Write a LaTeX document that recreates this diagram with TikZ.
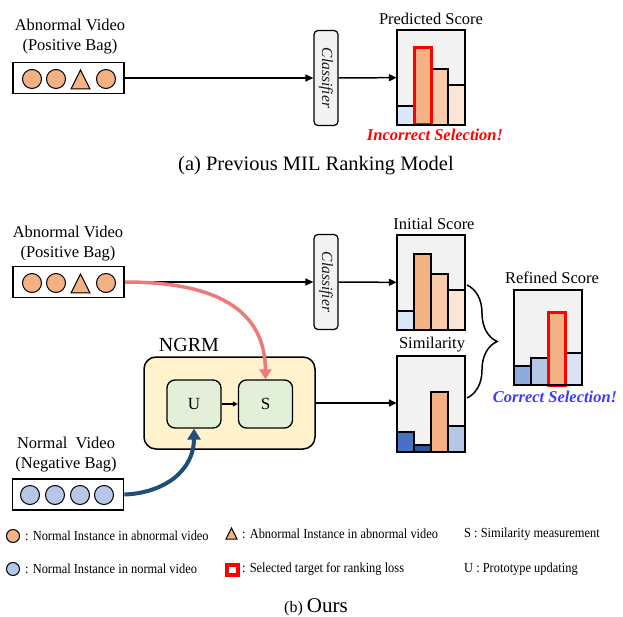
\documentclass[tikz,border=0pt]{standalone}
\usepackage{fontspec}
\setmainfont{Liberation Serif}
\newfontfamily\legfont[FakeStretch=0.9]{Liberation Serif}
\usetikzlibrary{arrows.meta,decorations.pathreplacing}

\definecolor{orangebar}{HTML}{F4B183}
\definecolor{orangemid}{HTML}{F8CBAD}
\definecolor{orangelight}{HTML}{FBE5D6}
\definecolor{bluepale}{HTML}{DAE8FC}
\definecolor{bluelight}{HTML}{B4C7E7}
\definecolor{bluemid}{HTML}{8FAADC}
\definecolor{bluefaint}{HTML}{DAE3F3}
\definecolor{bluestrong}{HTML}{4472C4}
\definecolor{bluedark}{HTML}{2F5597}
\definecolor{chartbg}{HTML}{F2F2F2}
\definecolor{ngrmfill}{HTML}{FFF2CC}
\definecolor{modfill}{HTML}{E2F0D9}
\definecolor{pinkline}{HTML}{EA7B78}
\definecolor{navyline}{HTML}{1F4E79}
\definecolor{okblue}{RGB}{60,60,255}

\tikzset{
	lbl/.style={font=\fontsize{16.5}{20}\selectfont, align=center, inner sep=0},
	legtext/.style={font=\legfont\fontsize{13.8}{15}\selectfont, anchor=west, inner sep=0},
	bagbox/.style={draw, line width=1.8pt, minimum width=111pt, minimum height=31pt, inner sep=0},
	inst/.style={circle, draw, line width=1pt, minimum size=19pt, inner sep=0},
	clsbox/.style={draw, line width=1.2pt, fill=chartbg, rounded corners=4pt, rotate=-90,
		minimum width=95pt, minimum height=24pt, inner sep=0, text=black!90,
		font=\fontsize{15.5}{16}\itshape\selectfont},
	chart/.style={fill=chartbg, minimum width=68pt, minimum height=95pt, inner sep=0},
	frame/.style={line width=1.8pt},
	bar/.style={draw, line width=1.3pt},
	pick/.style={draw=red, line width=3pt},
	conn/.style={line width=1.5pt, -{Triangle[length=8pt,width=7pt]}},
	module/.style={draw, line width=1.3pt, fill=modfill, rounded corners=8pt,
		minimum width=54pt, minimum height=48pt, font=\fontsize{17}{20}\selectfont}
}

\begin{document}
\begin{tikzpicture}[x=1pt,y=-1pt]
	\useasboundingbox[fill=white] (0,0) rectangle (623,617);

	% (a) previous model
	\node[lbl] (ablbl1) at (70,37) {Abnormal Video\\(Positive Bag)};
	\node[bagbox] (abbag1) at (68.5,78) {};
		\node[inst, fill=orangebar] (a1) at (32,79) {};
		\node[inst, fill=orangebar] (a2) at (56,79) {};
		\draw[line width=1pt, fill=orangebar] (71,89) -- (80.5,70) -- (90,89) -- cycle;
		\node[inst, fill=orangebar] (a4) at (106,79) {};
	\node[clsbox] (cls1) at (326,78) {Classifier};
	\draw[conn] (abbag1) -- (cls1);

	\node[chart] (predchart) at (431,77.5) {};
		\draw[bar, fill=bluepale] (397,106) rectangle (414,125);
		\draw[bar, fill=orangebar] (414,48) rectangle (431,125);
		\draw[bar, fill=orangemid] (431,69) rectangle (448,125);
		\draw[bar, fill=orangelight] (448,85) rectangle (465,125);
		\draw[pick] (414,48) rectangle (431,125);
		\draw[frame] (predchart.south west) rectangle (predchart.north east);
	\draw[conn] (cls1) -- (predchart);
	\node[lbl] (predlbl) at (431,19) {Predicted Score};
	\node[lbl, text=red, font=\fontsize{16.5}{20}\bfseries\itshape\selectfont] (wrong) at (435,135) {Incorrect Selection!};

	\node[lbl, font=\fontsize{20.5}{24}\selectfont] (capa) at (316,166) {(a) Previous MIL Ranking Model};

	% (b) ours
	\node[lbl] (ablbl2) at (68,244) {Abnormal Video\\(Positive Bag)};
	\node[bagbox] (abbag2) at (68.5,282) {};
		\node[inst, fill=orangebar] (b1) at (32,283) {};
		\node[inst, fill=orangebar] (b2) at (56,283) {};
		\draw[line width=1pt, fill=orangebar] (71,293) -- (80.5,274) -- (90,293) -- cycle;
		\node[inst, fill=orangebar] (b4) at (106,283) {};
	\node[clsbox] (cls2) at (326,282) {Classifier};
	\draw[conn] (abbag2) -- (cls2);

	\node[chart] (initchart) at (431,282.5) {};
		\draw[bar, fill=bluepale] (397,311) rectangle (414,330);
		\draw[bar, fill=orangebar] (414,254) rectangle (431,330);
		\draw[bar, fill=orangemid] (431,274) rectangle (448,330);
		\draw[bar, fill=orangelight] (448,290) rectangle (465,330);
		\draw[frame] (initchart.south west) rectangle (initchart.north east);
	\draw[conn] (cls2) -- (initchart);
	\node[lbl] (initlbl) at (434,224) {Initial Score};

	\node[chart] (simchart) at (431,404) {};
		\draw[bar, fill=bluestrong] (397,432) rectangle (414,451.5);
		\draw[bar, fill=bluedark] (414,445) rectangle (431,451.5);
		\draw[bar, fill=orangebar] (431,392) rectangle (448,451.5);
		\draw[bar, fill=bluelight] (448,426) rectangle (465,451.5);
		\draw[frame] (simchart.south west) rectangle (simchart.north east);
	\node[lbl] (simlbl) at (432,345) {Similarity};

	\draw[decorate, decoration={brace, amplitude=30pt}, line width=1.5pt] (467,285) -- (467,398);

	\node[chart] (refchart) at (548,337.5) {};
		\draw[bar, fill=bluemid] (514,366) rectangle (531,385);
		\draw[bar, fill=bluelight] (531,358) rectangle (548,385);
		\draw[bar, fill=orangebar] (548,312) rectangle (565,385);
		\draw[bar, fill=bluefaint] (565,353) rectangle (582,385);
		\draw[pick] (548,312) rectangle (565,385);
		\draw[frame] (refchart.south west) rectangle (refchart.north east);
	\node[lbl] (reflbl) at (552,278) {Refined Score};
	\node[lbl, text=okblue, font=\fontsize{16.5}{20}\bfseries\itshape\selectfont] (right) at (555,397) {Correct Selection!};

	\node[draw, line width=1.5pt, fill=ngrmfill, rounded corners=12pt, minimum width=171pt, minimum height=92pt] (ngrm) at (229.5,403) {};
	\node[lbl, font=\fontsize{20}{24}\selectfont] (ngrmlbl) at (189,345) {NGRM};
	\node[module] (unode) at (194,404) {U};
	\node[module] (snode) at (265.5,404) {S};
	\draw[line width=1.3pt, -{Triangle[length=5pt,width=5pt]}] (unode) -- (snode);
	\draw[conn] (ngrm) -- (ngrm -| simchart.west);

	\node[lbl] (nlbl) at (66,455) {Normal\ \ Video\\(Negative Bag)};
	\node[bagbox] (nbag) at (68,494.5) {};
		\node[inst, fill=bluelight] (n1) at (30,495) {};
		\node[inst, fill=bluelight] (n2) at (55,495) {};
		\node[inst, fill=bluelight] (n3) at (80,495) {};
		\node[inst, fill=bluelight] (n4) at (104,495) {};

	\draw[pinkline, line width=3.5pt, -{Triangle[length=10pt,width=12pt]}] (abbag2.east) .. controls (220,282) and (265,312) .. (snode.north);
	\draw[navyline, line width=4pt, -{Triangle[length=11pt,width=13pt]}] (nbag.east) .. controls (165,493) and (194,470) .. (unode.south);

	% legend
	\node[circle, draw, line width=1pt, fill=orangebar, minimum size=13pt, inner sep=0] (k1) at (13,536) {};
	\node[legtext] (k1t) at (25,536) {: Normal Instance in abnormal video};
	\node[circle, draw, line width=1pt, fill=bluelight, minimum size=13pt, inner sep=0] (k2) at (13,569) {};
	\node[legtext] (k2t) at (25,569) {: Normal Instance in normal video};
	\draw[line width=1pt, fill=orangebar] (226,539) -- (231.5,528) -- (237,539) -- cycle;
	\node[legtext] (k3t) at (242,534) {: Abnormal Instance in abnormal video};
	\draw[draw=red, line width=3.5pt, fill=white] (227,565) rectangle (238,575);
	\node[legtext] (k4t) at (242,569) {: Selected target for ranking loss};
	\node[legtext] (k5t) at (464,534) {S : Similarity measurement};
	\node[legtext] (k6t) at (464,569) {U : Prototype updating};

	\node[lbl] (capb) at (316,607) {{\fontsize{16}{20}\selectfont (b)} {\fontsize{21}{24}\selectfont Ours}};
\end{tikzpicture}
\end{document}
